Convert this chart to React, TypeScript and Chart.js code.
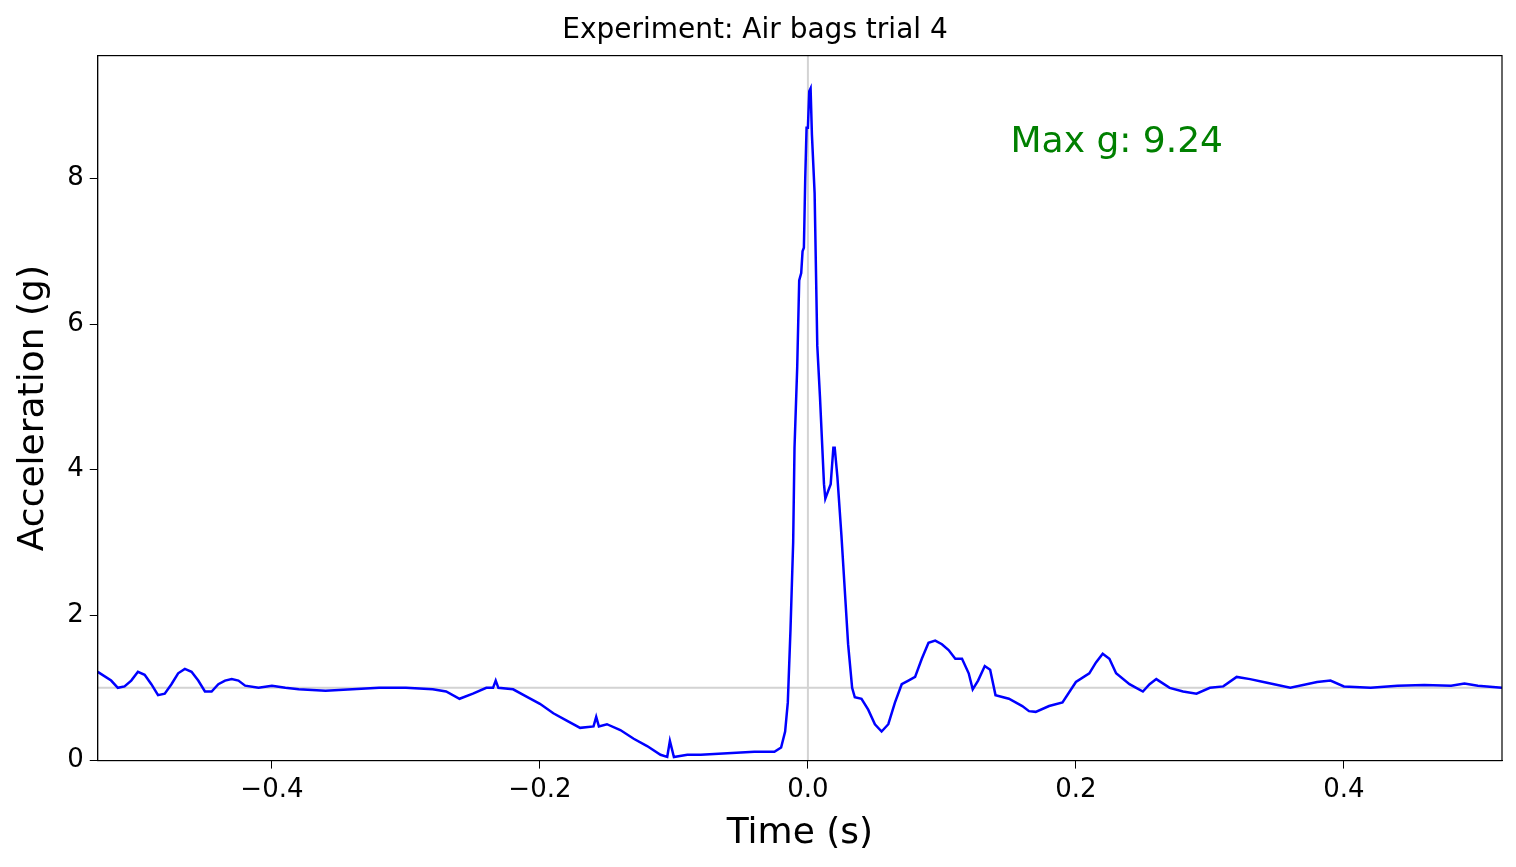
import { useEffect, useRef } from 'react';
import { Chart, registerables } from 'chart.js';

Chart.register(...registerables);

const times = [
  -0.53, -0.52, -0.515, -0.51, -0.505, -0.5, -0.495, -0.49, -0.485, -0.48, -0.475, -0.47, -0.465, -0.46, -0.455,
  -0.45, -0.445, -0.44, -0.435, -0.43, -0.425, -0.42, -0.41, -0.4, -0.39, -0.38, -0.36, -0.34, -0.32, -0.3, -0.28,
  -0.27, -0.26, -0.25, -0.24, -0.235, -0.233, -0.231, -0.22, -0.21, -0.2, -0.19, -0.18, -0.17, -0.16, -0.158,
  -0.156, -0.15, -0.14, -0.13, -0.12, -0.11, -0.105, -0.103, -0.1, -0.09, -0.08, -0.06, -0.04, -0.025, -0.02,
  -0.017, -0.015, -0.013, -0.011, -0.01, -0.008, -0.0065, -0.005, -0.004, -0.003, -0.002, -0.001, 0.0, 0.001,
  0.002, 0.003, 0.005, 0.007, 0.009, 0.012, 0.013, 0.015, 0.017, 0.019, 0.02, 0.022, 0.025, 0.028, 0.03, 0.033,
  0.035, 0.04, 0.045, 0.05, 0.055, 0.06, 0.065, 0.07, 0.075, 0.08, 0.085, 0.09, 0.095, 0.1, 0.105, 0.11, 0.115,
  0.12, 0.123, 0.127, 0.132, 0.136, 0.14, 0.15, 0.16, 0.165, 0.17, 0.18, 0.19, 0.2, 0.21, 0.215, 0.22, 0.225,
  0.23, 0.24, 0.245, 0.25, 0.255, 0.26, 0.27, 0.28, 0.29, 0.3, 0.31, 0.32, 0.33, 0.34, 0.36, 0.38, 0.39, 0.4,
  0.42, 0.44, 0.46, 0.48, 0.49, 0.5, 0.518,
];
const accel = [
  1.22, 1.1, 1.0, 1.02, 1.1, 1.22, 1.18, 1.05, 0.9, 0.92, 1.05, 1.2, 1.26, 1.22, 1.1,
  0.95, 0.95, 1.05, 1.1, 1.12, 1.1, 1.03, 1.0, 1.03, 1.0, 0.98, 0.96, 0.98, 1.0, 1.0, 0.98,
  0.95, 0.85, 0.92, 1.0, 1.0, 1.1, 1.0, 0.98, 0.88, 0.78, 0.65, 0.55, 0.45, 0.47, 0.6,
  0.47, 0.5, 0.42, 0.3, 0.2, 0.08, 0.05, 0.27, 0.05, 0.08, 0.08, 0.1, 0.12, 0.12, 0.18,
  0.4, 0.8, 1.8, 3.0, 4.3, 5.4, 6.6, 6.7, 7.0, 7.05, 8.0, 8.7, 8.7, 9.2,
  9.24, 8.6, 7.8, 5.7, 5.0, 3.8, 3.6, 3.7, 3.8, 4.3, 4.3, 3.9, 3.1, 2.2, 1.6, 1.0,
  0.87, 0.85, 0.7, 0.5, 0.4, 0.5, 0.8, 1.05, 1.1, 1.15, 1.4, 1.62, 1.65, 1.6, 1.52, 1.4, 1.4,
  1.2, 0.98, 1.1, 1.3, 1.25, 0.9, 0.85, 0.75, 0.68, 0.67, 0.75, 0.8, 1.08, 1.2, 1.35, 1.47, 1.4,
  1.2, 1.05, 1.0, 0.95, 1.05, 1.12, 1.0, 0.95, 0.92, 1.0, 1.02, 1.15, 1.12, 1.08, 1.0, 1.08, 1.1, 1.02,
  1.0, 1.03, 1.04, 1.03, 1.06, 1.03, 1.0,
];
const xTicks = [-0.4, -0.2, 0.0, 0.2, 0.4];
const yTicks = [0, 2, 4, 6, 8];
const maxG = 9.24;

const font = 'DejaVu Sans';

const decor = {
  id: 'decor',
  beforeDatasetsDraw(chart: any) {
    const { ctx, chartArea: a, scales } = chart;
    ctx.save();
    ctx.strokeStyle = 'rgba(128,128,128,0.35)';
    ctx.lineWidth = 2;
    const y1 = scales.y.getPixelForValue(1);
    const x0 = scales.x.getPixelForValue(0);
    ctx.beginPath();
    ctx.moveTo(a.left, y1); ctx.lineTo(a.right, y1);
    ctx.moveTo(x0, a.top); ctx.lineTo(x0, a.bottom);
    ctx.stroke();
    ctx.restore();
  },
  afterDraw(chart: any) {
    const { ctx, chartArea: a } = chart;
    ctx.save();
    ctx.strokeStyle = '#000';
    ctx.lineWidth = 1.2;
    ctx.strokeRect(a.left, a.top, a.right - a.left, a.bottom - a.top);
    ctx.fillStyle = 'green';
    ctx.font = `36px "${font}"`;
    ctx.textBaseline = 'middle';
    ctx.fillText(`Max g: ${maxG.toFixed(2)}`, a.left + (a.right - a.left) * 0.65, a.top + 87);
    ctx.restore();
  },
};

export default function App() {
  const canvasRef = useRef<HTMLCanvasElement>(null);

  useEffect(() => {
    if (!canvasRef.current) return;
    const chart = new Chart(canvasRef.current, {
      type: 'line',
      data: {
        datasets: [{
          data: times.map((t, i) => ({ x: t, y: accel[i] })),
          borderColor: 'blue',
          borderWidth: 2.5,
          pointRadius: 0,
          tension: 0,
        }],
      },
      options: {
        responsive: true,
        maintainAspectRatio: false,
        animation: false,
        layout: { padding: { left: 0, right: 6, top: 0, bottom: 0 } },
        plugins: {
          legend: { display: false },
          tooltip: { enabled: false },
          title: {
            display: true,
            text: 'Experiment: Air bags trial 4',
            color: '#000',
            font: { family: font, size: 28, weight: 'normal' },
            padding: { top: 6, bottom: 8 },
          },
        },
        scales: {
          x: {
            type: 'linear',
            min: -0.53,
            max: 0.518,
            afterBuildTicks: (s: any) => { s.ticks = xTicks.map((v) => ({ value: v })); },
            ticks: {
              color: '#000',
              font: { family: font, size: 26 },
              callback: (v: any) => Number(v).toFixed(1).replace('-', '\u2212'),
              padding: 6,
            },
            grid: { drawOnChartArea: false, drawTicks: true, tickLength: 8, color: '#000' },
            border: { color: '#000' },
            title: { display: true, text: 'Time (s)', color: '#000', font: { family: font, size: 36 }, padding: { top: 0 } },
          },
          y: {
            min: 0,
            max: 9.69,
            afterBuildTicks: (s: any) => { s.ticks = yTicks.map((v) => ({ value: v })); },
            ticks: { color: '#000', font: { family: font, size: 26 }, padding: 6 },
            grid: { drawOnChartArea: false, drawTicks: true, tickLength: 8, color: '#000' },
            border: { color: '#000' },
            title: { display: true, text: 'Acceleration (g)', color: '#000', font: { family: font, size: 36 }, padding: { bottom: 6 } },
          },
        },
      },
      plugins: [decor],
    });
    return () => { chart.destroy(); };
  }, []);

  return (
    <div style={{ width: 1500, height: 851, background: '#fff' }}>
      <canvas ref={canvasRef} />
    </div>
  );
}
